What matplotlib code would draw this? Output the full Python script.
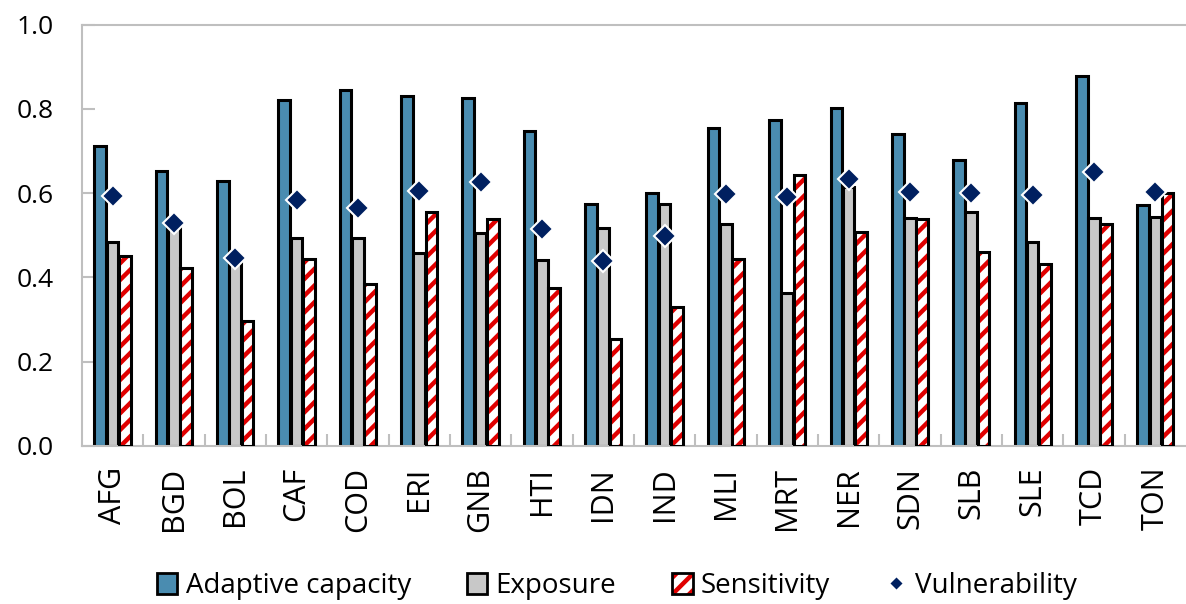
import numpy as np
import matplotlib.pyplot as plt
from matplotlib.patches import Patch
from matplotlib.lines import Line2D

plt.rcParams['font.family'] = ['Open Sans', 'DejaVu Sans']
plt.rcParams['hatch.linewidth'] = 3.2

countries = ['AFG', 'BGD', 'BOL', 'CAF', 'COD', 'ERI', 'GNB', 'HTI', 'IDN',
             'IND', 'MLI', 'MRT', 'NER', 'SDN', 'SLB', 'SLE', 'TCD', 'TON']

adaptive = [0.712, 0.652, 0.629, 0.821, 0.845, 0.830, 0.826, 0.747, 0.574,
            0.600, 0.754, 0.773, 0.802, 0.740, 0.679, 0.813, 0.877, 0.572]
exposure = [0.484, 0.525, 0.440, 0.494, 0.494, 0.458, 0.505, 0.441, 0.517,
            0.574, 0.527, 0.363, 0.615, 0.541, 0.555, 0.485, 0.540, 0.544]
sensitivity = [0.451, 0.423, 0.297, 0.443, 0.384, 0.555, 0.538, 0.375, 0.254,
               0.330, 0.443, 0.643, 0.508, 0.538, 0.461, 0.432, 0.526, 0.600]
vulnerability = [0.593, 0.529, 0.446, 0.584, 0.565, 0.605, 0.626, 0.515, 0.439,
                 0.498, 0.598, 0.590, 0.633, 0.603, 0.600, 0.595, 0.651, 0.603]

blue = '#4A8CB0'
grey = '#C8C8C8'
red = '#E00000'
navy = '#002060'
axis_grey = '#BFBFBF'

x = np.arange(len(countries))
w = 0.19

fig = plt.figure(figsize=(11.86, 6.04), dpi=100)
ax = fig.add_axes([0.069, 0.2616, 0.931, 0.6978])

ax.bar(x - 0.2, adaptive, w, color=blue, edgecolor='black', linewidth=2.2, zorder=2)
ax.bar(x, exposure, w, color=grey, edgecolor='black', linewidth=2.2, zorder=2)
# red stripes first, then the black outline on top
ax.bar(x + 0.2, sensitivity, w, color='white', edgecolor=red, hatch='//',
       linewidth=0, zorder=2)
ax.bar(x + 0.2, sensitivity, w, color='none', edgecolor='black', linewidth=2.2, zorder=3)
ax.plot(x, vulnerability, linestyle='none', marker='D', markersize=11,
        color=navy, markeredgecolor='white', markeredgewidth=1.5, zorder=4)

ax.set_xlim(-0.5, len(countries) - 0.5)
ax.set_ylim(0, 1.0)
ax.set_yticks(np.arange(0, 1.01, 0.2))
ax.set_yticklabels(['%.1f' % v for v in np.arange(0, 1.01, 0.2)])

ax.set_xticks(x)
ax.set_xticklabels(countries, rotation=90)
ax.set_xticks(np.arange(0.5, len(countries) - 1, 1), minor=True)
ax.tick_params(axis='x', which='major', length=0, pad=15, labelsize=22)
ax.tick_params(axis='x', which='minor', direction='in', length=9, color=axis_grey, width=1.5)
ax.tick_params(axis='y', direction='in', length=9, color=axis_grey, width=1.5,
               labelsize=19, pad=20)

for s in ['left', 'bottom', 'top']:
    ax.spines[s].set_color(axis_grey)
    ax.spines[s].set_linewidth(1.5)
ax.spines['right'].set_visible(False)

sens_handle = (Patch(facecolor='white', edgecolor=red, hatch='//', linewidth=0),
               Patch(facecolor='none', edgecolor='black', linewidth=2))
handles = [Patch(facecolor=blue, edgecolor='black', linewidth=2),
           Patch(facecolor=grey, edgecolor='black', linewidth=2),
           sens_handle,
           Line2D([], [], linestyle='none', marker='D', markersize=7, color=navy,
                  markeredgecolor='white')]
labels = ['Adaptive capacity', 'Exposure', 'Sensitivity', 'Vulnerability']
leg = fig.legend(handles, labels, loc='lower center', bbox_to_anchor=(0.52, -0.035),
                 ncol=4, frameon=False, fontsize=20, handlelength=0.75, handleheight=0.75,
                 handletextpad=0.3, columnspacing=2.0)

fig.savefig('out.png', dpi=100)
